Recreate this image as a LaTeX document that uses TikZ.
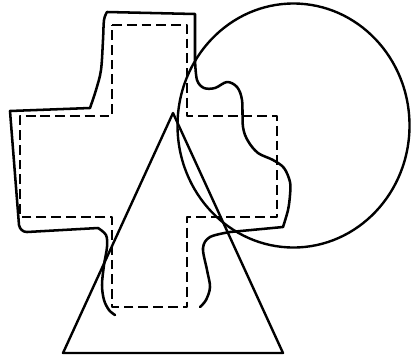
\documentclass[tikz,border=0pt]{standalone}
\usepackage{tikz}
\usetikzlibrary{calc}

\begin{document}
\begin{tikzpicture}[x=0.025cm, y=-0.025cm, line join=round, line cap=round,
  contour/.style={line width=1.8pt},
  cutline/.style={line width=1.8pt, line cap=butt, dash pattern=on 7pt off 3.5pt},
  figure/.style={line width=1.7pt}]
\useasboundingbox (0,0) rectangle (411,357);

\coordinate (ctr) at (293.5,125.5);
\draw[figure] (ctr) ellipse [x radius=116, y radius=122];

\coordinate (apex) at (173,113);
\coordinate (bl) at (63,353);
\coordinate (br) at (283,353);
\draw[figure] (apex) -- (br) -- (bl) -- cycle;

\draw[cutline] (112,25) -- (187,25) -- (187,116) -- (277,116) -- (277,217)
  -- (187,217) -- (187,307) -- (112,307) -- (112,217) -- (20,217)
  -- (20,116) -- (112,116) -- cycle;

\draw[contour] plot[smooth, tension=0.55] coordinates {(115,315) (109,310) (104,300) (102,285) (104,265) (107,247) (106,235) (98,228)}
  -- (27,232) to[out=180, in=-80] (19,225) -- (10,111) -- (90,108)
  -- plot[smooth, tension=0.55] coordinates {(90,108) (96,90) (101,70) (103,40) (104,20) (107,12)}
  -- (195,14) -- (195,60)
  -- plot[smooth, tension=0.55] coordinates {(195,60) (197,80) (204,88) (215,88) (227,82) (237,87) (242,100) (243,127) (248,141) (258,153) (273,160) (284,168) (290,182) (290,195) (288,210) (283,227)}
  -- (230,232)
  -- plot[smooth, tension=0.55] coordinates {(230,232) (210,237) (203,248) (207,270) (210,287) (206,300) (200,307)};
\end{tikzpicture}
\end{document}
